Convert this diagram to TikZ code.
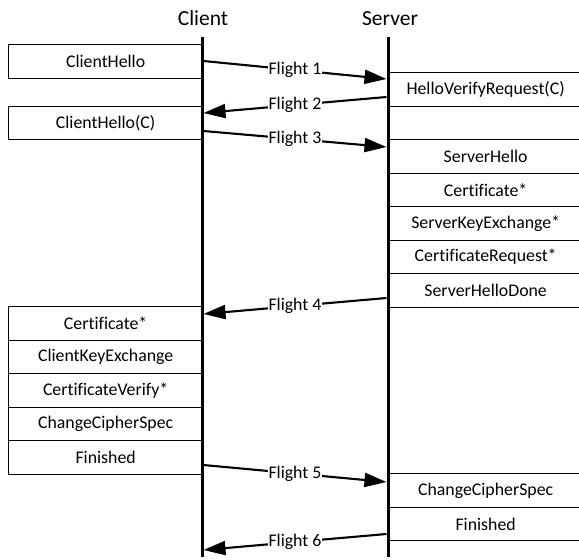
\documentclass[tikz,border=0pt]{standalone}
\usepackage{fontspec}
\setmainfont{Carlito}[Ligatures=NoCommon]
\usetikzlibrary{arrows.meta}
\begin{document}
\begin{tikzpicture}[x=1pt,y=-1pt,
  msg/.style={draw, line width=1.3pt, minimum width=194pt, minimum height=33.5pt, inner sep=0pt, font=\fontsize{17.8}{20}\selectfont, anchor=north west},
  life/.style={line width=3pt, line cap=butt},
  flight/.style={line width=2.1pt, -{Triangle[length=22pt,width=14pt]}},
  flab/.style={fill=white, inner sep=0.6pt, font=\fontsize{17.8}{20}\selectfont},
  head/.style={font=\fontsize{21.5}{24}\selectfont}]
\useasboundingbox (0,0) rectangle (579,560);
\clip (0,0) rectangle (579,560);
% headers
\node[head] (hc) at (203,18) {Client};
\node[head] (hs) at (390,19) {Server};
% client boxes
\node[msg] (c1) at (8,44) {ClientHello};
\node[msg] (c2) at (8,105.5) {ClientHello(C)};
\node[msg] (c3) at (8,306) {Certificate*};
\node[msg] (c4) at (8,339.5) {ClientKeyExchange};
\node[msg] (c5) at (8,373) {CertificateVerify*};
\node[msg] (c6) at (8,406.5) {ChangeCipherSpec};
\node[msg] (c7) at (8,440) {Finished};
% server boxes
\node[msg] (s1) at (388,72) {HelloVerifyRequest(C)};
\node[msg] (s2) at (388,139) {ServerHello};
\node[msg] (s3) at (388,172.5) {Certificate*};
\node[msg] (s4) at (388,206) {ServerKeyExchange*};
\node[msg] (s5) at (388,239.5) {CertificateRequest*};
\node[msg] (s6) at (388,273) {ServerHelloDone};
\node[msg] (s7) at (388,473) {ChangeCipherSpec};
\node[msg] (s8) at (388,506.5) {Finished};
% lifelines
\coordinate (ctop) at (202,37);
\coordinate (cbot) at (202,557);
\coordinate (stop) at (388,37);
\coordinate (sbot) at (388,557);
\draw[life] (ctop) -- (cbot);
\draw[life] (stop) -- (sbot);
% flights
\coordinate (f1a) at (203.5,61);  \coordinate (f1b) at (386.5,79);
\coordinate (f2a) at (386.5,97);  \coordinate (f2b) at (203.5,113);
\coordinate (f3a) at (203.5,131); \coordinate (f3b) at (386.5,147);
\coordinate (f4a) at (386.5,298); \coordinate (f4b) at (203.5,314);
\coordinate (f5a) at (203.5,465); \coordinate (f5b) at (386.5,482);
\coordinate (f6a) at (386.5,534); \coordinate (f6b) at (203.5,550);
\draw[flight] (f1a) -- node[flab] (l1) {Flight 1} (f1b);
\draw[flight] (f2a) -- node[flab] (l2) {Flight 2} (f2b);
\draw[flight] (f3a) -- node[flab] (l3) {Flight 3} (f3b);
\draw[flight] (f4a) -- node[flab] (l4) {Flight 4} (f4b);
\draw[flight] (f5a) -- node[flab] (l5) {Flight 5} (f5b);
\draw[flight] (f6a) -- node[flab] (l6) {Flight 6} (f6b);
\end{tikzpicture}
\end{document}
